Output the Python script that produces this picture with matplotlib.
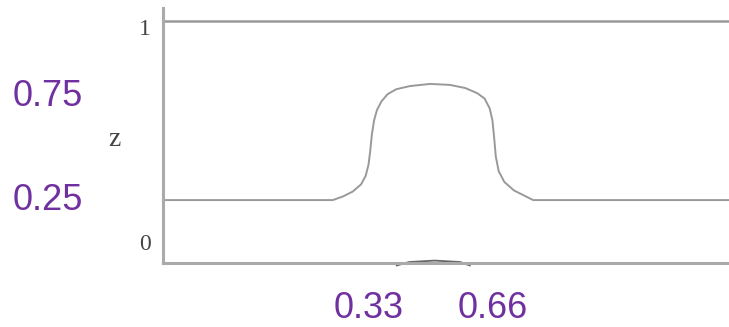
import matplotlib
matplotlib.use('Agg')
import matplotlib.pyplot as plt

# interface profile z(x) (x, z as fractions of the box)
profile_x = [0.0, 0.300, 0.318, 0.335, 0.350, 0.358, 0.363, 0.366, 0.369, 0.373,
             0.378, 0.386, 0.397, 0.412, 0.436, 0.472, 0.507, 0.534, 0.555, 0.568,
             0.577, 0.582, 0.585, 0.588, 0.593, 0.603, 0.620, 0.654, 1.0]
profile_z = [0.26, 0.26, 0.275, 0.295, 0.325, 0.360, 0.405, 0.460, 0.530, 0.590,
             0.632, 0.668, 0.698, 0.718, 0.731, 0.740, 0.736, 0.723, 0.702, 0.680,
             0.640, 0.590, 0.520, 0.440, 0.380, 0.335, 0.300, 0.26, 0.26]

# small bump under the bottom line
bump_x = [0.413, 0.435, 0.480, 0.525, 0.542]
bump_z = [-0.010, 0.004, 0.010, 0.004, -0.010]

level_labels = ["0.75", "0.25"]
level_pos = [0.69, 0.26]
x_labels = ["0.33", "0.66"]
x_pos = [0.364, 0.582]

purple = "#7030A0"
grey = "#999999"

fig = plt.figure(figsize=(7.29, 3.27), dpi=100)
ax = fig.add_axes([163 / 729, 64 / 327, 566 / 729, 255 / 327])
ax.set_xlim(0, 1)
ax.set_ylim(0, 255 / 242)

ax.plot(profile_x, profile_z, color=grey, lw=1.4)
ax.plot(bump_x, bump_z, color="#666666", lw=1.3, clip_on=False)
ax.axhline(1.0, color=grey, lw=1.8)

for s in ["top", "right"]:
    ax.spines[s].set_visible(False)
for s in ["left", "bottom"]:
    ax.spines[s].set_color("#aaaaaa")
    ax.spines[s].set_linewidth(2.2)
ax.set_xticks([])
ax.set_yticks([])

# original axis annotations
ax.text(-0.032, 0.075, "0", ha="center", va="center",
        family="Liberation Serif", fontsize=17, color="#444444")
ax.text(-0.032, 0.965, "1", ha="center", va="center",
        family="Liberation Serif", fontsize=17, color="#444444")
ax.text(-0.086, 0.51, "z", ha="center", va="center",
        family="Liberation Serif", fontsize=20, color="#444444")

# purple overlay labels
for lab, yv in zip(level_labels, level_pos):
    ax.text(-0.204, yv, lab, ha="center", va="center", clip_on=False,
            family="Liberation Sans", fontsize=26, color=purple)
for lab, xv in zip(x_labels, x_pos):
    ax.text(xv, -0.19, lab, ha="center", va="center", clip_on=False,
            family="Liberation Sans", fontsize=26, color=purple)

fig.savefig("out.png", dpi=100)
